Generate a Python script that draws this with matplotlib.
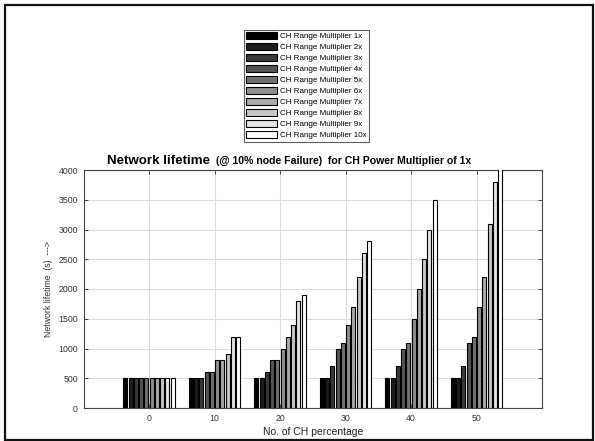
import matplotlib
matplotlib.use("Agg")
import matplotlib.pyplot as plt
from matplotlib.patches import Rectangle, Patch
import numpy as np

plt.rcParams['font.family'] = ['Liberation Sans', 'DejaVu Sans']

ch_percentage = [0, 10, 20, 30, 40, 50]
multipliers = ['1x', '2x', '3x', '4x', '5x', '6x', '7x', '8x', '9x', '10x']
# rows: range multiplier 1x..10x ; columns: CH percentage groups
lifetime = [
    [500, 500, 500, 500, 500, 500],
    [500, 500, 500, 500, 500, 500],
    [500, 500, 600, 700, 700, 700],
    [500, 600, 800, 1000, 1000, 1100],
    [500, 600, 800, 1100, 1100, 1200],
    [500, 800, 1000, 1400, 1500, 1700],
    [500, 800, 1200, 1700, 2000, 2200],
    [500, 900, 1400, 2200, 2500, 3100],
    [500, 1200, 1800, 2600, 3000, 3800],
    [500, 1200, 1900, 2800, 3500, 4100],
]
yticks = [0, 500, 1000, 1500, 2000, 2500, 3000, 3500, 4000]

W, H = 595, 441
fig = plt.figure(figsize=(W / 100, H / 100), dpi=100)

def fx(px):
    return px / W

def fy(py):
    return 1 - py / H

ax_l, ax_r, ax_t, ax_b = 83.5, 542, 170, 408
ax = fig.add_axes([fx(ax_l), fy(ax_b), fx(ax_r - ax_l), (ax_b - ax_t) / H])

n = len(multipliers)
pitch = 0.8
bw = 0.6
x = np.array(ch_percentage, dtype=float)
handles = []
for i in range(n):
    g = i / (n - 1)
    col = (g, g, g)
    offs = (i - (n - 1) / 2) * pitch
    ax.bar(x + offs, lifetime[i], width=bw, color=col, edgecolor='black',
           linewidth=0.8, zorder=3)
    handles.append(Patch(facecolor=col, edgecolor='black', linewidth=0.8,
                         label='CH Range Multiplier ' + multipliers[i]))

ax.set_xlim(-10, 60)
ax.set_ylim(0, 4000)
ax.set_xticks(ch_percentage)
ax.set_xticklabels([str(v) for v in ch_percentage])
ax.set_yticks(yticks)
ax.set_yticklabels([str(v) for v in yticks])
ax.grid(True, color='#dcdcdc', linewidth=0.8, zorder=0)
ax.set_axisbelow(True)
ax.tick_params(direction='in', length=3, width=0.6, top=True, right=True,
               labelsize=6.3, colors='#333333', labelcolor='#333333', pad=4)
for s in ax.spines.values():
    s.set_color('#444444')
    s.set_linewidth(0.8)

ax.set_xlabel('No. of CH percentage', fontsize=7.5, color='#222222', labelpad=3)
ax.set_ylabel('Network lifetime  (s)  --->', fontsize=6.3, color='#333333', labelpad=4)

# title in two parts
fig.text(fx(107), fy(164), 'Network lifetime', fontsize=9.6, fontweight='bold',
         ha='left', va='baseline')
fig.text(fx(215.5), fy(164), '(@ 10% node Failure)  for CH Power Multiplier of 1x',
         fontsize=7.6, fontweight='bold', ha='left', va='baseline')

leg = fig.legend(handles=handles, loc='upper left',
                 bbox_to_anchor=(fx(244), fy(29.5)), fontsize=5.8,
                 frameon=True, fancybox=False, edgecolor='#333333',
                 handlelength=3.75, handleheight=1.0, handletextpad=0.4,
                 labelspacing=0.33, borderpad=0.3, borderaxespad=0)
leg.get_frame().set_linewidth(0.8)

# outer frame
fig.patches.append(Rectangle((fx(5), fy(440)), fx(588), (440 - 5) / H,
                             transform=fig.transFigure, fill=False,
                             edgecolor='#111111', linewidth=1.6))

fig.savefig('out.png', dpi=100)
